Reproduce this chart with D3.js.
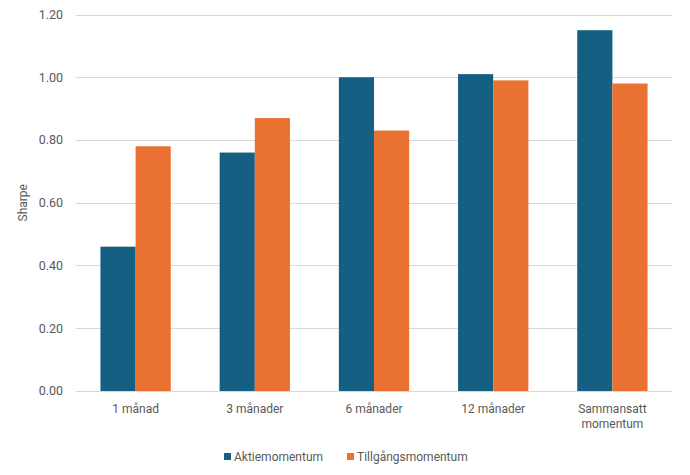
<!DOCTYPE html>
<html><head><meta charset="utf-8">
<script src="https://cdn.jsdelivr.net/npm/d3@7"></script>
<style>
html,body{margin:0;padding:0;background:#fff;}
text{font-family:"Roboto","Liberation Sans",sans-serif;fill:#595959;}
</style></head>
<body><svg id="c" width="690" height="475"></svg>
<script>
const categories = ["1 månad","3 månader","6 månader","12 månader","Sammansatt momentum"];
const seriesNames = ["Aktiemomentum","Tillgångsmomentum"];
const aktie = [0.46,0.76,1.00,1.01,1.15];
const tillgang = [0.78,0.87,0.83,0.99,0.98];
const yTicks = [0,0.2,0.4,0.6,0.8,1.0,1.2];
const colors = ["#156082","#E97132"];

const svg = d3.select("#c");
const m = {l:76, r:672, t:14.5, b:391};
const x = d3.scaleBand().domain(categories).range([m.l,m.r]).paddingInner(0.41).paddingOuter(0.205);
const x1 = d3.scaleBand().domain(seriesNames).range([0,x.bandwidth()]);
const y = d3.scaleLinear().domain([0,1.2]).range([m.b,m.t]);

// grid
svg.append("g").selectAll("line").data(yTicks).join("line")
  .attr("x1",m.l).attr("x2",m.r).attr("y1",d=>Math.round(y(d))+0.5).attr("y2",d=>Math.round(y(d))+0.5)
  .attr("stroke","#d9d9d9").attr("stroke-width",1);

// y labels
svg.append("g").selectAll("text").data(yTicks).join("text")
  .attr("x",63).attr("y",d=>y(d)).attr("dy","0.35em").attr("text-anchor","end")
  .style("font-size","12.5px").text(d=>d3.format(".2f")(d));

// bars
const data = categories.map((c,i)=>({c, vals:[aktie[i],tillgang[i]]}));
const g = svg.append("g").selectAll("g").data(data).join("g")
  .attr("transform",d=>`translate(${x(d.c)},0)`);
g.selectAll("rect").data(d=>d.vals.map((v,j)=>({s:seriesNames[j],v,j}))).join("rect")
  .attr("x",d=>x1(d.s)).attr("width",x1.bandwidth())
  .attr("y",d=>y(d.v)).attr("height",d=>y(0)-y(d.v))
  .attr("fill",d=>colors[d.j]);

// x labels
const xl = svg.append("g").selectAll("text").data(categories).join("text")
  .attr("x",d=>x(d)+x.bandwidth()/2).attr("y",413).attr("text-anchor","middle")
  .style("font-size","12px");
xl.each(function(d){
  const t = d3.select(this);
  const parts = d==="Sammansatt momentum" ? ["Sammansatt","momentum"] : [d];
  parts.forEach((p,i)=>t.append("tspan").attr("x",x(d)+x.bandwidth()/2).attr("dy",i?15:0).text(p));
});

// y title
svg.append("text").attr("transform",`translate(27,${(m.t+m.b)/2}) rotate(-90)`)
  .attr("text-anchor","middle").style("font-size","12px").text("Sharpe");

// legend
const lg = svg.append("g");
const legX = [224,347];
seriesNames.forEach((s,i)=>{
  lg.append("rect").attr("x",legX[i]).attr("y",453).attr("width",7).attr("height",7).attr("fill",colors[i]);
  lg.append("text").attr("x",legX[i]+10).attr("y",456.5).attr("dy","0.35em").style("font-size","12px").text(s);
});
</script></body></html>
